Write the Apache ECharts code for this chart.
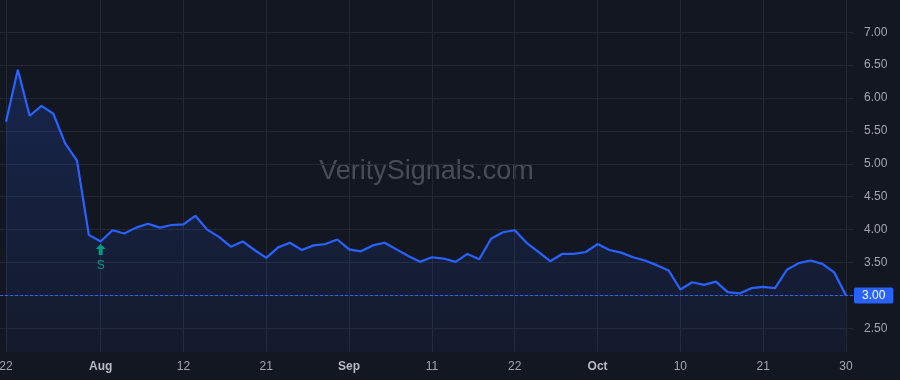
<!DOCTYPE html>
<html>
<head>
<meta charset="utf-8">
<script src="https://cdn.jsdelivr.net/npm/echarts@6/dist/echarts.min.js"></script>
<style>
html,body{margin:0;padding:0;background:#131722;}
#chart{width:900px;height:380px;}
</style>
</head>
<body>
<div id="chart"></div>
<script>
const dates = [
  '2025-07-22','2025-07-23','2025-07-24','2025-07-25','2025-07-28','2025-07-29','2025-07-30','2025-07-31',
  '2025-08-01','2025-08-04','2025-08-05','2025-08-06','2025-08-07','2025-08-08','2025-08-11','2025-08-12',
  '2025-08-13','2025-08-14','2025-08-15','2025-08-18','2025-08-19','2025-08-20','2025-08-21','2025-08-22',
  '2025-08-25','2025-08-26','2025-08-27','2025-08-28','2025-08-29','2025-09-02','2025-09-03','2025-09-04',
  '2025-09-05','2025-09-08','2025-09-09','2025-09-10','2025-09-11','2025-09-12','2025-09-15','2025-09-16',
  '2025-09-17','2025-09-18','2025-09-19','2025-09-22','2025-09-23','2025-09-24','2025-09-25','2025-09-26',
  '2025-09-29','2025-09-30','2025-10-01','2025-10-02','2025-10-03','2025-10-06','2025-10-07','2025-10-08',
  '2025-10-09','2025-10-10','2025-10-13','2025-10-14','2025-10-15','2025-10-16','2025-10-17','2025-10-20',
  '2025-10-21','2025-10-22','2025-10-23','2025-10-24','2025-10-27','2025-10-28','2025-10-29','2025-10-30'
];
const prices = [
  5.64, 6.43, 5.73, 5.88, 5.76, 5.31, 5.05, 3.92,
  3.82, 3.99, 3.94, 4.03, 4.09, 4.03, 4.07, 4.08,
  4.21, 4.00, 3.89, 3.74, 3.82, 3.69, 3.57, 3.73,
  3.80, 3.69, 3.76, 3.78, 3.85, 3.70, 3.67, 3.76,
  3.80, 3.70, 3.60, 3.51, 3.58, 3.56, 3.51, 3.63,
  3.55, 3.86, 3.96, 3.99, 3.80, 3.66, 3.52, 3.63,
  3.63, 3.66, 3.78, 3.69, 3.65, 3.58, 3.53, 3.46,
  3.38, 3.09, 3.20, 3.16, 3.21, 3.05, 3.03, 3.11,
  3.13, 3.11, 3.39, 3.49, 3.53, 3.48, 3.35, 3.00
];
const tickDates = ['2025-07-22','2025-08-01','2025-08-12','2025-08-21','2025-09-02','2025-09-11','2025-09-22','2025-10-01','2025-10-10','2025-10-21','2025-10-30'];
const tickLabels = ['22','Aug','12','21','Sep','11','22','Oct','10','21','30'];
const monthLabels = ['Aug','Sep','Oct'];
const priceTicks = [2.5, 7.0, 0.5]; // min, max, step of price scale labels
const signalDate = '2025-08-01';
const signalText = 'S';
const watermark = 'VeritySignals.com';

const signalIndex = dates.indexOf(signalDate);
const lastPrice = prices[prices.length - 1];
const seriesData = prices.map((v, i) => [i, v]);
const isTick = (idx) => tickDates.indexOf(dates[idx]) >= 0;

const chart = echarts.init(document.getElementById('chart'), null, {renderer: 'canvas'});
const gridColor = '#242835';
const textColor = '#a3a6af';

chart.setOption({
  backgroundColor: '#131722',
  animation: false,
  textStyle: {fontFamily: 'Liberation Sans, Arial, sans-serif'},
  graphic: [{
    type: 'text', x: 426.5, y: 172, z: 0, silent: true,
    style: {text: watermark, font: '27px "Liberation Sans", Arial, sans-serif', fill: 'rgba(196,200,210,0.3)', align: 'center', verticalAlign: 'middle'}
  }],
  grid: [
    {left: 0, right: 47, top: 0, bottom: 28, outerBoundsMode: 'none', containLabel: false},
    {left: 6, right: 54, top: 0, bottom: 28, outerBoundsMode: 'none', containLabel: false},
    {left: 0, right: 47, top: 32.2, bottom: 51.7, outerBoundsMode: 'none', containLabel: false}
  ],
  xAxis: [
    {gridIndex: 0, type: 'value', min: -0.507, max: 71.59, show: false},
    {gridIndex: 1, type: 'category', data: dates, boundaryGap: false,
      axisLine: {show: false}, axisTick: {show: false},
      axisLabel: {
        interval: (idx) => isTick(idx), margin: 9, fontSize: 12, color: textColor,
        formatter: (val) => {
          const k = tickDates.indexOf(val);
          if (k < 0) return '';
          const t = tickLabels[k];
          return monthLabels.indexOf(t) >= 0 ? '{m|' + t + '}' : t;
        },
        rich: {m: {fontSize: 12, fontWeight: 'bold', color: '#b8bbc3'}}
      },
      splitLine: {show: true, interval: (idx) => isTick(idx), lineStyle: {color: gridColor, width: 1}}
    },
    {gridIndex: 2, type: 'value', show: false}
  ],
  yAxis: [
    {gridIndex: 0, type: 'value', min: 2.140, max: 7.489, show: false},
    {gridIndex: 1, type: 'value', show: false},
    {gridIndex: 2, type: 'value', position: 'right', min: priceTicks[0], max: priceTicks[1], interval: priceTicks[2],
      axisLine: {show: false}, axisTick: {show: false},
      axisLabel: {margin: 11, fontSize: 12, color: textColor, formatter: (v) => v.toFixed(2)},
      splitLine: {show: true, lineStyle: {color: gridColor, width: 1}}
    }
  ],
  series: [{
    type: 'line', xAxisIndex: 0, yAxisIndex: 0, data: seriesData,
    symbol: 'none', smooth: false, z: 3,
    lineStyle: {color: '#2962ff', width: 2.2},
    areaStyle: {origin: 'start', color: new echarts.graphic.LinearGradient(0, 0, 0, 1, [
      {offset: 0, color: 'rgba(41,98,255,0.27)'},
      {offset: 1, color: 'rgba(41,98,255,0.07)'}
    ])},
    markLine: {
      silent: true, symbol: 'none',
      lineStyle: {color: '#2962ff', type: [3, 2], width: 1},
      label: {show: true, position: 'end', distance: 1, formatter: () => lastPrice.toFixed(2),
        backgroundColor: '#2962ff', color: '#ffffff', padding: [2, 8, 2, 8], borderRadius: 2, fontSize: 12},
      data: [{yAxis: lastPrice}]
    },
    markPoint: {
      silent: true,
      data: [{
        coord: [signalIndex, prices[signalIndex]],
        symbol: 'path://M5,0 L10,5 L7,5 L7,11 L3,11 L3,5 L0,5 Z',
        symbolSize: [10, 11], symbolOffset: [0, 8],
        itemStyle: {color: '#089981'},
        label: {show: true, formatter: signalText, position: 'bottom', distance: 5, color: '#089981', fontSize: 12}
      }]
    }
  }]
});
</script>
</body>
</html>
